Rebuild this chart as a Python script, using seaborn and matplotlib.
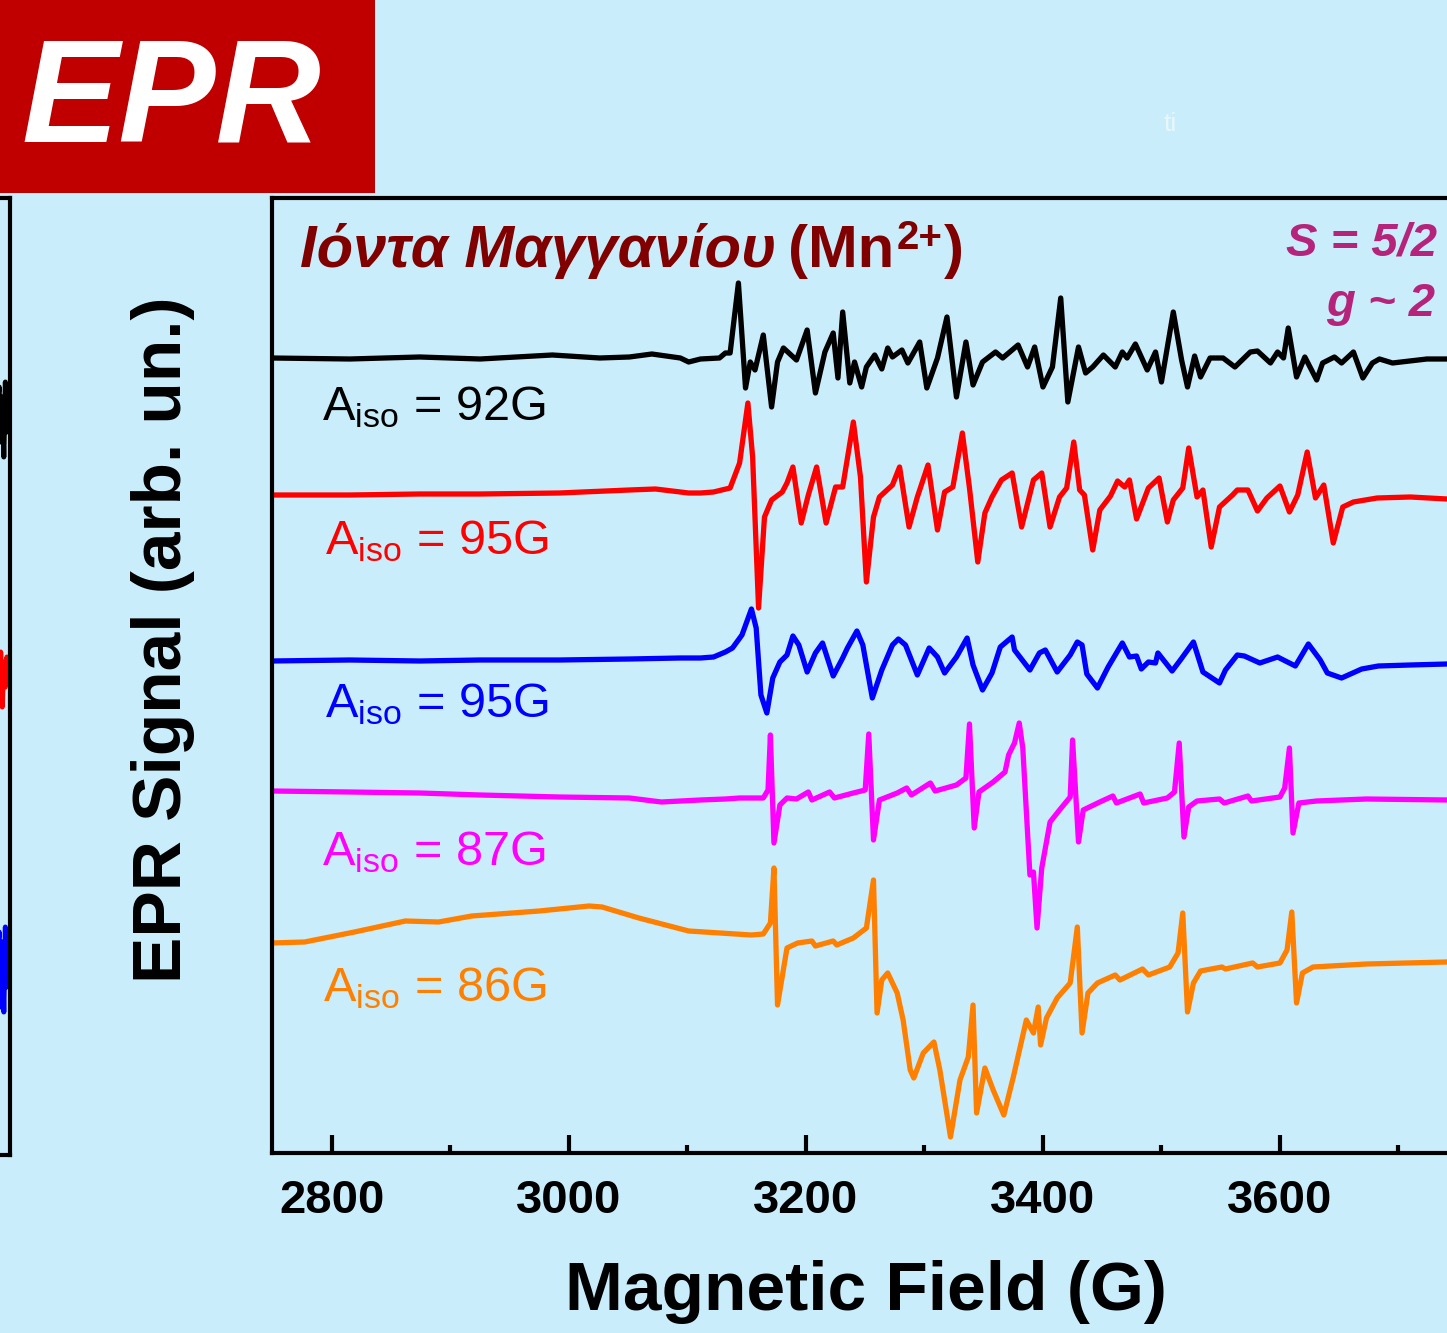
import matplotlib
matplotlib.use("Agg")
import matplotlib.pyplot as plt
from matplotlib.patches import Rectangle
import seaborn as sns

# --- data (field in G, signal in arb. units relative to each baseline) ---
field_black = [2749, 2815, 2874, 2925, 2986, 3026, 3051, 3070, 3094, 3101, 3111, 3127, 3132, 3136, 3143,
               3149, 3153, 3157, 3164, 3171, 3176, 3181, 3192, 3201, 3208, 3216, 3223, 3227, 3231, 3237,
               3241, 3247, 3251, 3258, 3264, 3269, 3273, 3281, 3286, 3296, 3302, 3311, 3319, 3327, 3335,
               3341, 3349, 3360, 3366, 3379, 3387, 3393, 3400, 3408, 3415, 3421, 3430, 3436, 3442, 3451,
               3461, 3467, 3471, 3478, 3488, 3495, 3500, 3510, 3517, 3522, 3528, 3533, 3541, 3552, 3562,
               3575, 3581, 3592, 3598, 3603, 3607, 3614, 3621, 3631, 3636, 3646, 3652, 3662, 3670, 3678,
               3684, 3695, 3724, 3741]
signal_black = [0, -1, 1, -1, 3, 0, 1, 4, 0, -4, -1, 0, 5, 5, 75,
                -30, -4, -12, 23, -49, -4, 10, -2, 28, -35, 6, 25, -20, 46, -25,
                -4, -29, -9, 3, -11, 10, 1, 8, -5, 16, -30, 0, 41, -39, 16,
                -27, -4, 6, 0, 13, -9, 11, -29, -9, 60, -44, 11, -15, -9, 3,
                -9, 6, 0, 14, -12, 6, -24, 46, -2, -29, 2, -19, 0, 0, -9,
                6, 7, -5, 6, 0, 30, -19, 1, -22, -5, 1, -5, 6, -20, -5,
                -1, -5, -1, -1]

field_red = [2749, 2815, 2874, 2925, 2992, 3051, 3073, 3101, 3111, 3122, 3136, 3144, 3151, 3155, 3160,
             3165, 3171, 3180, 3184, 3189, 3196, 3202, 3209, 3217, 3225, 3231, 3240, 3246, 3251, 3257,
             3262, 3273, 3279, 3287, 3294, 3303, 3311, 3317, 3324, 3332, 3338, 3345, 3351, 3357, 3365,
             3374, 3382, 3392, 3399, 3406, 3414, 3420, 3426, 3431, 3435, 3442, 3448, 3457, 3463, 3469,
             3473, 3479, 3489, 3498, 3505, 3510, 3518, 3523, 3530, 3535, 3542, 3549, 3560, 3564, 3573,
             3581, 3589, 3600, 3608, 3615, 3623, 3630, 3637, 3645, 3653, 3662, 3682, 3710, 3741]
signal_red = [0, 0, 1, 1, 2, 5, 6, 2, 2, 3, 7, 32, 92, 38, -113,
              -22, -5, 3, 12, 28, -28, 0, 28, -28, 8, 8, 73, 18, -87, -22,
              -2, 10, 28, -32, -2, 30, -35, 3, 8, 62, 7, -67, -18, -2, 15,
              22, -32, 15, 22, -32, -2, 7, 53, 5, 0, -55, -15, -1, 14, 8,
              15, -24, 7, 17, -27, -5, 7, 47, -2, 5, -52, -12, 0, 5, 5,
              -16, -3, 9, -17, 0, 43, -3, 10, -48, -12, -7, -3, -2, -4]

field_blue = [2749, 2815, 2874, 2925, 2992, 3051, 3094, 3111, 3122, 3132, 3138, 3146, 3154, 3158, 3162,
              3167, 3172, 3178, 3184, 3189, 3194, 3201, 3208, 3214, 3223, 3231, 3235, 3243, 3248, 3256,
              3264, 3273, 3278, 3284, 3294, 3304, 3311, 3317, 3327, 3336, 3341, 3349, 3357, 3364, 3374,
              3376, 3389, 3397, 3402, 3412, 3423, 3429, 3433, 3437, 3446, 3455, 3467, 3473, 3479, 3483,
              3489, 3495, 3497, 3509, 3516, 3527, 3535, 3549, 3554, 3564, 3570, 3583, 3598, 3613, 3624,
              3634, 3640, 3652, 3669, 3683, 3710, 3741]
signal_blue = [-1, 0, -1, 0, 0, 1, 2, 2, 3, 8, 12, 25, 51, 32, -35,
               -53, -18, -2, 5, 24, 15, -12, 7, 17, -16, 2, 12, 29, 15, -38,
               -10, 15, 21, 15, -15, 12, 3, -13, 3, 22, -5, -30, -13, 13, 23,
               10, -10, 7, 10, -12, 5, 18, 15, -14, -28, -7, 17, 3, 4, -9,
               -2, -3, 7, -11, 0, 18, -12, -23, -10, 5, 4, -3, 3, -6, 16,
               0, -13, -18, -9, -6, -5, -4]

field_magenta = [2749, 2815, 2874, 2925, 2992, 3051, 3078, 3111, 3132, 3144, 3164, 3168, 3170, 3173, 3178,
                 3184, 3192, 3202, 3205, 3220, 3224, 3240, 3250, 3253, 3257, 3262, 3277, 3285, 3289, 3305,
                 3309, 3327, 3335, 3338, 3342, 3346, 3358, 3368, 3371, 3376, 3380, 3383, 3389, 3392, 3395,
                 3399, 3406, 3414, 3423, 3425, 3430, 3434, 3448, 3459, 3462, 3482, 3485, 3505, 3511, 3515,
                 3519, 3523, 3530, 3549, 3553, 3573, 3576, 3600, 3604, 3608, 3611, 3616, 3631, 3673, 3741]
signal_magenta = [7, 6, 5, 3, 1, 0, -4, -2, -1, 0, 0, 8, 63, -45, -7,
                  0, -1, 6, -2, 6, 0, 5, 8, 64, -42, -2, 5, 10, 3, 15,
                  7, 13, 20, 74, -30, 6, 16, 26, 43, 55, 75, 50, -77, -74, -130,
                  -70, -24, -12, 1, 58, -44, -12, -4, 2, -5, 4, -5, 0, 6, 55,
                  -39, -9, -3, -1, -5, 2, -3, 1, 10, 50, -35, -5, -3, -1, -2]

field_orange = [2749, 2777, 2819, 2862, 2890, 2918, 2975, 3017, 3028, 3059, 3101, 3154, 3164, 3170, 3173,
                3176, 3184, 3193, 3205, 3208, 3223, 3226, 3240, 3251, 3257, 3260, 3264, 3269, 3277, 3282,
                3288, 3291, 3299, 3308, 3313, 3322, 3330, 3337, 3341, 3344, 3351, 3358, 3367, 3375, 3386,
                3392, 3396, 3398, 3403, 3412, 3423, 3429, 3433, 3438, 3446, 3461, 3465, 3484, 3489, 3507,
                3514, 3518, 3522, 3527, 3533, 3551, 3554, 3577, 3581, 3600, 3606, 3610, 3614, 3619, 3628,
                3673, 3741]
signal_orange = [-9, -8, 2, 13, 12, 18, 23, 28, 27, 16, 3, -1, 0, 11, 66,
                 -71, -14, -9, -7, -12, -7, -11, -4, 6, 54, -79, -46, -39, -59, -86,
                 -136, -144, -119, -108, -136, -203, -146, -123, -71, -179, -134, -156, -181, -143, -86,
                 -99, -73, -111, -84, -64, -49, 7, -99, -59, -49, -41, -46, -35, -41, -33,
                 -19, 21, -78, -49, -37, -33, -35, -29, -33, -29, -16, 22, -69, -39, -33,
                 -30, -28]

labels = ["92G", "95G", "95G", "87G", "86G"]
tick_fields = [2800, 3000, 3200, 3400, 3600]

# cut-off neighbouring panel on the far left (only its right end shows)
side_x = [96.0, 96.5, 97.0, 97.5, 98.0, 98.5, 99.0, 99.5, 100.0]
side_black = [-5, 30, -25, 20, -40, 35, -15, 15, 0]
side_red = [10, -20, 25, -30, 15, -10, 20, -5, 0]
side_blue = [-10, 35, -40, 25, -45, 40, -20, 30, 0]

# --- styling ---
W, H = 1447, 1333
BG = "#caedfb"
colors = ["black", "#ff0000", "#0000ff", "#ff00ff", "#ff8000"]
offsets = [795, 658, 493, 355, 219]
label_pos = [(322, 420), (325, 554), (325, 717), (322, 865), (323, 1001)]

sns.set_style("ticks")
plt.rcParams["font.family"] = ["Liberation Sans", "DejaVu Sans"]
plt.rcParams["mathtext.fontset"] = "custom"
plt.rcParams["mathtext.rm"] = "Liberation Sans"
plt.rcParams["mathtext.it"] = "Liberation Sans:italic"
plt.rcParams["mathtext.bf"] = "Liberation Sans:bold"
for key in ["text.color", "axes.edgecolor", "xtick.color", "ytick.color", "axes.labelcolor"]:
    plt.rcParams[key] = "black"
plt.rcParams["lines.solid_joinstyle"] = "round"
plt.rcParams["lines.solid_capstyle"] = "round"


def fx(px):
    return px / W


def fy(py):
    return 1 - py / H


fig = plt.figure(figsize=(W / 100, H / 100), dpi=100, facecolor=BG)

# main axes: right edge runs past the figure border
ax = fig.add_axes([fx(272), fy(1153), (1500 - 272) / W, (1153 - 198) / H], facecolor=BG)
series = [(field_black, signal_black), (field_red, signal_red), (field_blue, signal_blue),
          (field_magenta, signal_magenta), (field_orange, signal_orange)]
for (f, s), c, off in zip(series, colors, offsets):
    sns.lineplot(x=f, y=[v + off for v in s], ax=ax, color=c, lw=3.8, errorbar=None)

ax.set_xlim(2749.4, 3785.7)
ax.set_ylim(0, 955)
ax.set_xticks(tick_fields)
ax.set_xticks([t + 100 for t in tick_fields], minor=True)
ax.set_xticklabels([str(t) for t in tick_fields], fontsize=34, fontweight="bold")
ax.set_yticks([])
ax.tick_params(axis="x", which="major", direction="in", length=13, width=3, pad=19)
ax.tick_params(axis="x", which="minor", direction="in", length=6, width=3)
for sp in ax.spines.values():
    sp.set_linewidth(3)
    sp.set_visible(True)
ax.set_xlabel("")
ax.set_ylabel("")

# left, mostly hidden panel
ax2 = fig.add_axes([fx(-300), fy(1155), 310 / W, (1155 - 198) / H], facecolor=BG)
for s, c, off in zip([side_black, side_red, side_blue], colors[:3], [738, 478, 188]):
    sns.lineplot(x=side_x, y=[v + off for v in s], ax=ax2, color=c, lw=3.6, errorbar=None)
ax2.set_xlim(0, 100)
ax2.set_ylim(0, 957)
ax2.set_xticks([])
ax2.set_yticks([])
for sp in ax2.spines.values():
    sp.set_linewidth(3)

# red EPR banner
fig.patches.append(Rectangle((0, fy(193)), 375 / W, 193 / H, transform=fig.transFigure,
                             facecolor="#c00000", edgecolor="none", zorder=5))
fig.text(fx(21), fy(141), "EPR", color="white", fontsize=105, fontweight="bold",
         fontstyle="italic", va="baseline", ha="left", zorder=6)
fig.text(fx(1164), fy(131), "ti", color="#e9f7fd", fontsize=19, va="baseline")

# titles inside the plot
renderer = fig.canvas.get_renderer()
t1 = fig.text(fx(300), fy(267), "Ιόντα Μαγγανίου", color="#800000", fontsize=43,
              fontweight="bold", fontstyle="italic", va="baseline")
t2 = fig.text(fx(788), fy(267), "(Mn", color="#800000", fontsize=43,
              fontweight="bold", va="baseline")
x_sup = t2.get_window_extent(renderer).x1 + 2
t3 = fig.text(x_sup / W, fy(249), "2+", color="#800000", fontsize=29,
              fontweight="bold", va="baseline")
x_par = t3.get_window_extent(renderer).x1 + 2
fig.text(x_par / W, fy(267), ")", color="#800000", fontsize=43,
         fontweight="bold", va="baseline")

fig.text(fx(1437), fy(255), "S = 5/2", color="#b5237a", fontsize=34,
         fontweight="bold", fontstyle="italic", ha="right", va="baseline")
fig.text(fx(1435), fy(316), "g ~ 2", color="#b5237a", fontsize=34,
         fontweight="bold", fontstyle="italic", ha="right", va="baseline")

for lab, c, (px, py) in zip(labels, colors, label_pos):
    fig.text(fx(px), fy(py), r"A$_{\mathrm{iso}}$ = " + lab, color=c, fontsize=35, va="baseline")

fig.text(fx(163), fy(640), "EPR Signal (arb. un.)", rotation=90, ha="center", va="center",
         fontsize=50, fontweight="bold")
fig.text(fx(866), fy(1292), "Magnetic Field (G)", ha="center", va="center",
         fontsize=50, fontweight="bold")

fig.savefig("out.png", dpi=100, facecolor=BG)
